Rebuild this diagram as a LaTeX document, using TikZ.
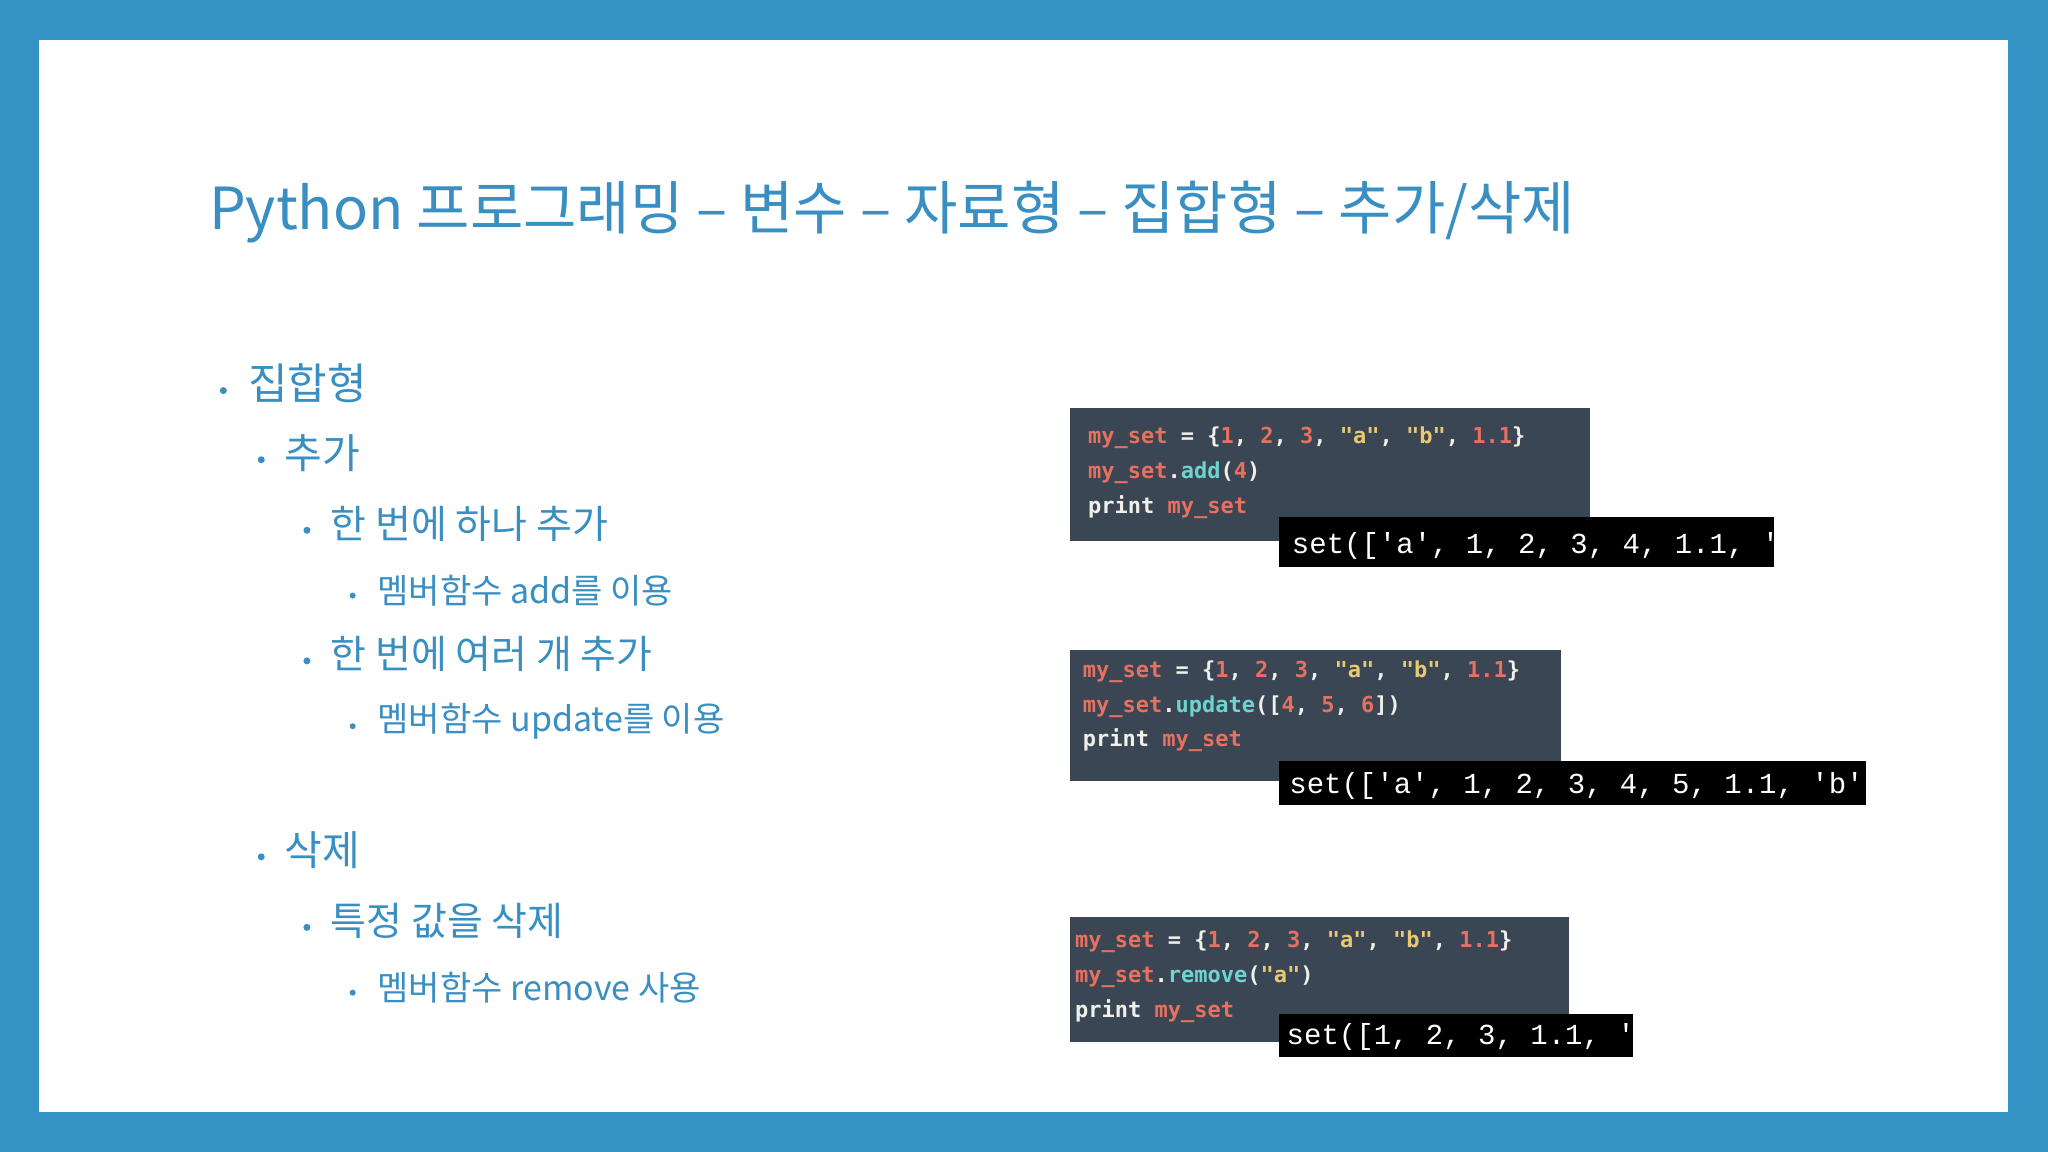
\documentclass[tikz,border=0pt]{standalone}
\usepackage{fontspec}
\setmainfont{Noto Sans CJK KR}
\setmonofont{DejaVu Sans Mono}
\newfontfamily\outfont{Liberation Mono}
\definecolor{frame}{HTML}{3592C4}
\definecolor{ttl}{HTML}{3A8FC2}
\definecolor{codebg}{HTML}{3A4654}
\definecolor{cr}{HTML}{E8705E}
\definecolor{cc}{HTML}{6FD3CF}
\definecolor{cy}{HTML}{EAC872}
\definecolor{cw}{HTML}{F0F0E8}
\newcommand{\R}[1]{\textcolor{cr}{#1}}
\newcommand{\C}[1]{\textcolor{cc}{#1}}
\newcommand{\Y}[1]{\textcolor{cy}{#1}}
\newcommand{\W}[1]{\textcolor{cw}{#1}}
\begin{document}
\begin{tikzpicture}[x=1.306pt,y=-1.306pt,
  txt/.style={anchor=west,inner sep=0,text=ttl},
  l1/.style={txt,font=\fontsize{43}{50}\selectfont},
  l2/.style={txt,font=\fontsize{41}{48}\selectfont},
  l3/.style={txt,font=\fontsize{39}{46}\selectfont},
  l4/.style={txt,font=\fontsize{34}{40}\selectfont},
  dot/.style={circle,fill=ttl,inner sep=0,minimum size=7pt},
  code/.style={anchor=west,inner sep=0,font=\ttfamily\bfseries\fontsize{22}{26}\selectfont},
  outp/.style={anchor=west,inner sep=0,text=white,font=\outfont\fontsize{29}{32}\selectfont}]
\fill[frame] (0,0) rectangle (1568,882);
\fill[white] (30,31) rectangle (1537,851);
\node[txt,font=\fontsize{58}{64}\selectfont] (title) at (160,162) {Python 프로그래밍 – 변수 – 자료형 – 집합형 – 추가/삭제};
% bullets
\node[dot] (d1) at (171,299) {}; \node[l1] (t1) at (190,293) {집합형};
\node[dot] (d2) at (200,352) {}; \node[l2] (t2) at (218,347) {추가};
\node[dot] (d3) at (235,406) {}; \node[l3] (t3) at (253,401) {한 번에 하나 추가};
\node[dot,minimum size=6pt] (d4) at (270,456) {}; \node[l4] (t4) at (289,452) {멤버함수 add를 이용};
\node[dot] (d5) at (235,506) {}; \node[l3] (t5) at (253,501) {한 번에 여러 개 추가};
\node[dot,minimum size=6pt] (d6) at (270,556) {}; \node[l4] (t6) at (289,552) {멤버함수 update를 이용};
\node[dot] (d7) at (200,656) {}; \node[l2] (t7) at (218,651) {삭제};
\node[dot] (d8) at (235,710) {}; \node[l3] (t8) at (253,705) {특정 값을 삭제};
\node[dot,minimum size=6pt] (d9) at (270,760) {}; \node[l4] (t9) at (289,756) {멤버함수 remove 사용};
% box 1
\fill[codebg] (819,312) rectangle (1217,414);
\node[code] (a1) at (833,335) {\R{my\_set} \W{= \{}\R{1}\W{,} \R{2}\W{,} \R{3}\W{,} \Y{"a"}\W{,} \Y{"b"}\W{,} \R{1.1}\W{\}}};
\node[code] (a2) at (833,362) {\R{my\_set}\W{.}\C{add}\W{(}\R{4}\W{)}};
\node[code] (a3) at (833,388) {\W{print} \R{my\_set}};
\fill[black] (979,396) rectangle (1358,434);
\node[outp] (o1) at (989,418) {set(['a', 1, 2, 3, 4, 1.1, 'b'])};
% box 2
\fill[codebg] (819,498) rectangle (1195,598);
\node[code] (b1) at (829,514) {\R{my\_set} \W{= \{}\R{1}\W{,} \R{2}\W{,} \R{3}\W{,} \Y{"a"}\W{,} \Y{"b"}\W{,} \R{1.1}\W{\}}};
\node[code] (b2) at (829,541) {\R{my\_set}\W{.}\C{update}\W{([}\R{4}\W{,} \R{5}\W{,} \R{6}\W{])}};
\node[code] (b3) at (829,567) {\W{print} \R{my\_set}};
\fill[black] (979,583) rectangle (1429,616);
\node[outp] (o2) at (987,602) {set(['a', 1, 2, 3, 4, 5, 1.1, 'b', 6])};
% box 3
\fill[codebg] (819,702) rectangle (1201,798);
\node[code] (c1) at (823,721) {\R{my\_set} \W{= \{}\R{1}\W{,} \R{2}\W{,} \R{3}\W{,} \Y{"a"}\W{,} \Y{"b"}\W{,} \R{1.1}\W{\}}};
\node[code] (c2) at (823,748) {\R{my\_set}\W{.}\C{remove}\W{(}\Y{"a"}\W{)}};
\node[code] (c3) at (823,774) {\W{print} \R{my\_set}};
\fill[black] (979,776) rectangle (1250,809);
\node[outp] (o3) at (985,794) {set([1, 2, 3, 1.1, 'b'])};
\end{tikzpicture}
\end{document}
